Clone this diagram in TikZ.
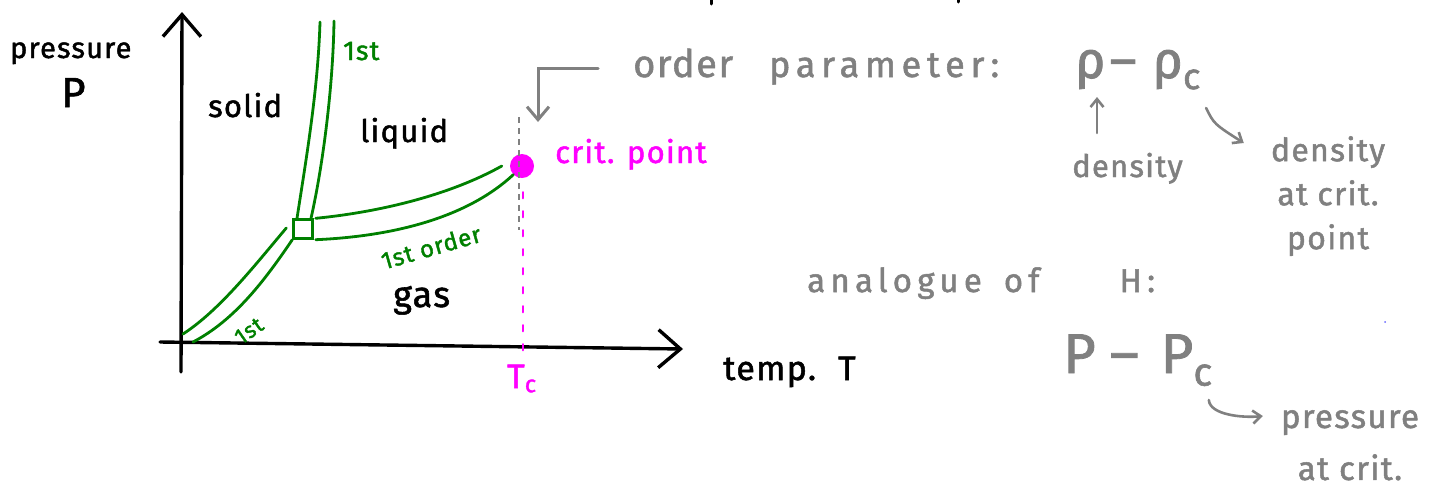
\documentclass[tikz,border=0pt]{standalone}
\usepackage{fontspec}
\setmainfont{Fira Sans}
\newfontfamily\handfont[LetterSpace=4,FakeBold=1.5]{Fira Sans}
\newfontfamily\widefont[LetterSpace=16,FakeBold=1.5]{Fira Sans}
\usetikzlibrary{positioning,arrows.meta}
\definecolor{inkgreen}{RGB}{0,128,0}
\definecolor{inkgray}{RGB}{128,128,128}
\definecolor{inkpink}{RGB}{255,0,255}
\newcommand{\fsz}[1]{\fontsize{#1}{#1}\selectfont}

\begin{document}
\begin{tikzpicture}[
    x=1pt, y=-1pt,
    txt/.style={inner sep=0pt, anchor=base west},
    axisline/.style={line width=3.4pt, line cap=round, -{Straight Barb[length=22pt,width=38pt]}},
    phase/.style={inkgreen, line width=2.8pt, line cap=round},
    grayarr/.style={inkgray, line width=3pt, line cap=round, -{Straight Barb[length=13pt,width=22pt]}},
    smallarr/.style={inkgray, line width=2.6pt, line cap=round, -{Straight Barb[length=8pt,width=13pt]}}
]
\useasboundingbox (0,0) rectangle (1447,491);

% axes
\coordinate (ybot) at (181,372);
\coordinate (ytop) at (182,12);
\coordinate (xleft) at (160,342);
\coordinate (xright) at (683,349);
\draw[axisline] (ybot) -- (ytop);
\draw[axisline] (xleft) -- (xright);

\node[txt, font={\handfont\fsz{29}}] (pres) at (10,58) {pressure};
\node[txt, font={\handfont\fsz{42}}] (Plab) at (61,107) {P};
\node[txt, font={\handfont\fsz{34}}] (temp) at (723,380) {temp.\hspace{22pt}T};

% phases
\node[txt, font={\handfont\fsz{31}}] (solid) at (208,117) {solid};
\node[txt, font={\handfont\fsz{31}}] (liquid) at (360,142) {liquid};
\node[txt, font={\handfont\fsz{36}}] (gas) at (393,307) {gas};

% triple point and critical point
\node[draw=inkgreen, line width=2.4pt, minimum size=19pt, inner sep=0pt] (tp) at (303,229) {};
\node[circle, fill=inkpink, minimum size=24pt, inner sep=0pt] (crit) at (522,166) {};

% coexistence lines
\draw[phase] ([xshift=-6pt]tp.north) .. controls (306,160) and (318,90) .. (320,22);
\draw[phase] ([xshift=8pt]tp.north) .. controls (322,170) and (333,90) .. (334,21);
\draw[phase] ([xshift=-6pt,yshift=1pt]tp.west) .. controls (255,265) and (220,310) .. (183,334);
\draw[phase] (tp.south west) .. controls (265,280) and (235,320) .. (193,342);
\draw[phase] ([xshift=2pt]tp.north east) .. controls (380,212) and (450,195) .. ([xshift=-8pt]crit.west);
\draw[phase] ([xshift=2pt]tp.south east) .. controls (400,236) and (470,215) .. (crit.south west);

\node[txt, inkgreen, font={\handfont\fsz{27}}] (firstA) at (343,60) {1st};
\node[inkgreen, inner sep=0pt, rotate=35, font={\handfont\fsz{22}}] (firstB) at (249,331) {1st};
\node[inkgreen, inner sep=0pt, rotate=16, font={\handfont\fsz{24}}] (firstC) at (431,247) {1st order};

% critical point markers
\draw[inkgray, line width=1.8pt, dash pattern=on 6pt off 5pt]
    ([xshift=-3pt,yshift=49pt]crit.center) -- ([xshift=-3pt,yshift=-64pt]crit.center);
\draw[inkpink, line width=2.4pt, line cap=round, dash pattern=on 6pt off 13pt]
    ([xshift=1pt,yshift=-14pt]crit.south) -- ++(0,166);
\node[txt, inkpink, font={\handfont\fsz{31}}] (critlbl) at (555,163) {crit. point};
\node[txt, inkpink, font={\handfont\fsz{34}}] (Tc) at (507,388) {T\textsubscript{c}};

% order parameter
\node[txt, inkgray, font={\handfont\fsz{38}}] (op) at (633,77) {order\hspace{36pt}{\widefont\fsz{36}parameter:}};
\draw[grayarr] ([xshift=-35pt,yshift=9pt]op.base west) -| ([xshift=16pt,yshift=44pt]crit.center);
\node[txt, inkgray, font={\handfont\fsz{52}}] (rho) at (1075,78) {ρ\hspace{4pt}–\hspace{16pt}ρ\textsubscript{c}};
\node[txt, inkgray, font={\handfont\fsz{31}}] (dens) at (1072,177) {density};
\node[inkgray, inner sep=0pt, anchor=north, align=center, font={\handfont\fontsize{32}{44}\selectfont}] (densc) at (1328,136) {density\\at crit.\\point};
\draw[smallarr] ([xshift=25pt,yshift=44pt]dens.base west) -- ([xshift=25pt,yshift=80pt]dens.base west);
\draw[smallarr] ([xshift=5pt,yshift=-30pt]rho.base east) .. controls +(8,16) .. ([xshift=-27pt,yshift=-7pt]densc.north west);

% analogue of the field
\node[txt, inkgray, font={\widefont\fsz{33}}] (analog) at (807,292) {analogue\hspace{22pt}of\hspace{80pt}H:};
\node[txt, inkgray, font={\handfont\fsz{56}}] (Pdiff) at (1063,373) {P\hspace{14pt}–\hspace{22pt}P\textsubscript{c}};
\node[inkgray, inner sep=0pt, anchor=north, align=center, font={\handfont\fontsize{33}{52}\selectfont}] (presc) at (1350,410) {pressure\\at crit.};
\draw[smallarr] ([xshift=-4pt,yshift=-27pt]Pdiff.base east) .. controls +(1,15) and +(-20,2) .. ([xshift=-18pt,yshift=-6pt]presc.north west);

% stray marks
\draw[line width=3pt, line cap=round] (711,0) -- (711,4);
\draw[line width=3pt, line cap=round] (958,0) -- (958,2);
\fill[blue!60] (1385,322) circle (1pt);
\end{tikzpicture}
\end{document}
